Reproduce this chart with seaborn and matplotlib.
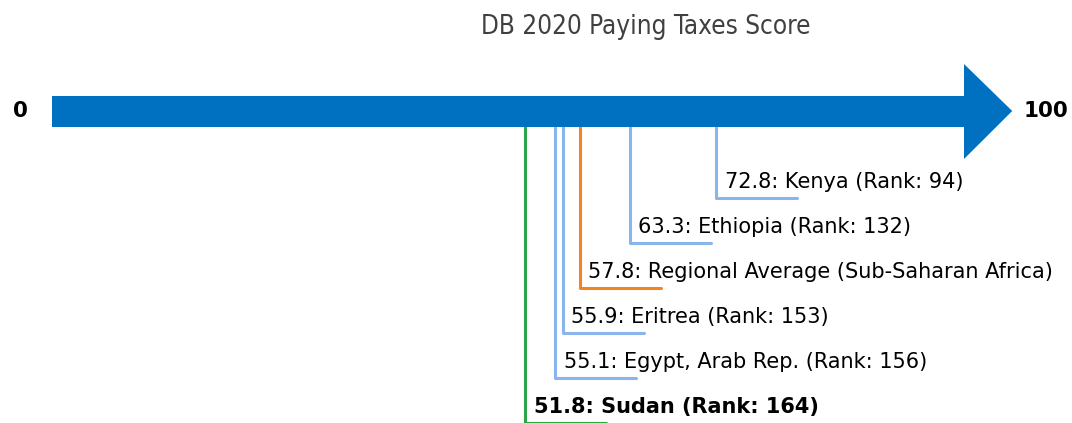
import matplotlib.pyplot as plt
import matplotlib.patches as mpatches
import pandas as pd
import seaborn as sns

# values
LABELS = [
    "72.8: Kenya (Rank: 94)",
    "63.3: Ethiopia (Rank: 132)",
    "57.8: Regional Average (Sub-Saharan Africa)",
    "55.9: Eritrea (Rank: 153)",
    "55.1: Egypt, Arab Rep. (Rank: 156)",
    "51.8: Sudan (Rank: 164)",
]
SCORES = [72.8, 63.3, 57.8, 55.9, 55.1, 51.8]
KINDS = ["peer", "peer", "region", "peer", "peer", "focus"]
TITLE = "DB 2020 Paying Taxes Score"

PALETTE = {"peer": "#8AB4EE", "region": "#F5841F", "focus": "#2CA44A"}
ARROW_COLOR = "#0070C0"

# layout (pixel rows, data units across)
ROW_TOP = 199
ROW_STEP = 45
ARROW_Y = 112
ARROW_HALF = 15.5
STUB = 8.9

sns.set_style("white")
plt.rcParams["font.family"] = ["DejaVu Sans"]

fig = plt.figure(figsize=(10.72, 4.23), dpi=100)
ax = fig.add_axes([0, 0, 1, 1])

# main arrow 0 -> 100
body = mpatches.Rectangle((-0.2, ARROW_Y - ARROW_HALF), 100.2, 2 * ARROW_HALF,
                          color=ARROW_COLOR, lw=0, zorder=3)
head = mpatches.Polygon([(100, 65), (105.3, ARROW_Y), (100, 160)],
                        closed=True, color=ARROW_COLOR, lw=0, zorder=3)
ax.add_patch(body)
ax.add_patch(head)
ax.text(-3.7, ARROW_Y, "0", ha="center", va="center", fontsize=15.5,
        fontweight="bold", color="black")
ax.text(106.5, ARROW_Y, "100", ha="left", va="center", fontsize=15.5,
        fontweight="bold", color="black")

# elbow connectors
rows = []
for i, (label, score, kind) in enumerate(zip(LABELS, SCORES, KINDS)):
    y = ROW_TOP + ROW_STEP * i
    for order, (px, py) in enumerate([(score, ARROW_Y + ARROW_HALF), (score, y), (score + STUB, y)]):
        rows.append({"label": label, "kind": kind, "x": px, "y": py, "order": order})
paths = pd.DataFrame(rows)

sns.lineplot(data=paths, x="x", y="y", hue="kind", units="label", estimator=None,
             sort=False, palette=PALETTE, linewidth=2.2, legend=False, ax=ax, zorder=2)
ax.set_xlim(-54 / 9.1, (1072 - 54) / 9.1)
ax.set_ylim(424, 1)
ax.axis("off")

for i, (label, score, kind) in enumerate(zip(LABELS, SCORES, KINDS)):
    y = ROW_TOP + ROW_STEP * i
    ax.text(score + 0.9, y - 16, label, ha="left", va="center", fontsize=15,
            fontweight="bold" if kind == "focus" else "normal", color="black")

ax.text(65, 28, TITLE, ha="center", va="center", fontsize=18.7,
        fontstretch="condensed", color="#404040")

fig.savefig("out.png", dpi=100)
